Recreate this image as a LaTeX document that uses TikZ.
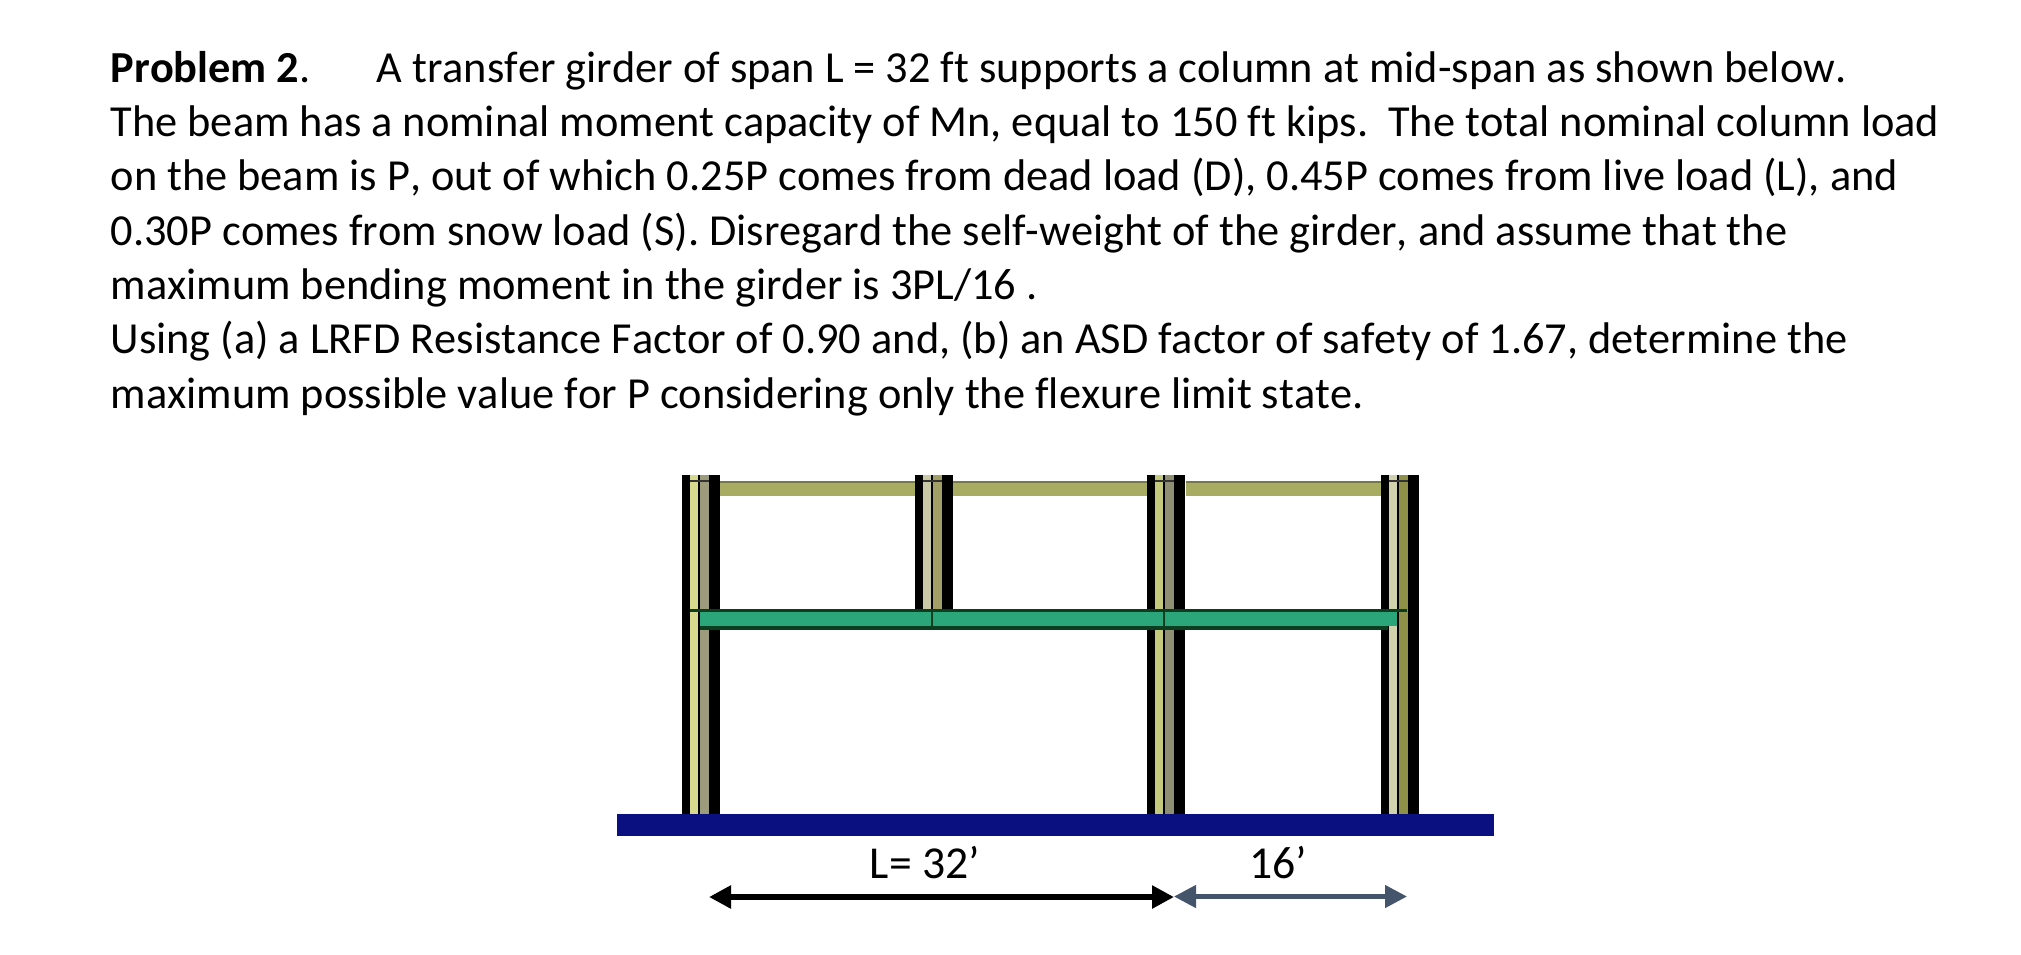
\documentclass[tikz,border=0pt]{standalone}
\usepackage{fontspec}
\setmainfont{Carlito}[Kerning=Off,Ligatures=NoCommon]
\usetikzlibrary{arrows.meta}

\definecolor{navy}{HTML}{0A1080}
\definecolor{slate}{HTML}{44546A}
\definecolor{girder}{HTML}{2BA67A}
\definecolor{girderedge}{HTML}{0B3D20}
\definecolor{roof}{HTML}{A8AC62}

\begin{document}
\begin{tikzpicture}[x=0.01cm,y=-0.01cm,
  txt/.style={anchor=base west,inner sep=0pt,font=\fontsize{12.61}{15}\selectfont},
  dim/.style={anchor=base,inner sep=0pt,font=\fontsize{13}{15}\selectfont},
  span/.style={{Triangle[length=22*0.2845pt,width=22*0.2845pt]}-{Triangle[length=22*0.2845pt,width=22*0.2845pt]}}]

  \useasboundingbox (0,0) rectangle (2021,954);

  \foreach \x/\e/\lt/\dk in {682/814/D6D98E/9C9C7C,915/609/C9C9A5/A3A067,1147/814/C5C97E/8F8F73,1381/814/D0D2AE/8F9148}{
    \definecolor{lt}{HTML}{\lt}
    \definecolor{dk}{HTML}{\dk}
    \fill[black] (\x,475) rectangle (\x+38,\e);
    \fill[lt] (\x+8,475) rectangle (\x+16,\e);
    \fill[dk] (\x+18,475) rectangle (\x+27,\e);
    \fill[black!80] (\x+8,480) rectangle (\x+27,482);
  }
  \foreach \a/\b in {720/915,953/1147,1186/1381}{
    \fill[roof] (\a,481) rectangle (\b,496);
    \fill[roof!70!black] (\a,481) rectangle (\b,483);
  }

  \fill[girderedge] (690,609) rectangle (1407,612);
  \fill[girderedge] (700,626) rectangle (1388,630);
  \fill[girder] (700,612) rectangle (1397,626);
  \fill[girderedge] (931,609) rectangle (933,630);
  \fill[girderedge] (1163,609) rectangle (1165,630);

  \fill[navy] (617,814) rectangle (1494,836);

  \node[txt] (prob) at (110,82) {\textbf{Problem 2}.};
  \node[txt] (l1) at (376,82) {A transfer girder of span L = 32 ft supports a column at mid-span as shown below.};
  \node[txt] (l2) at (110,136.3) {The beam has a nominal moment capacity of Mn, equal to 150 ft kips.\ \ The total nominal column load};
  \node[txt] (l3) at (110,190.6) {on the beam is P, out of which 0.25P comes from dead load (D), 0.45P comes from live load (L), and};
  \node[txt] (l4) at (110,245) {0.30P comes from snow load (S). Disregard the self-weight of the girder, and assume that the};
  \node[txt] (l5) at (110,299) {maximum bending moment in the girder is 3PL/16 .};
  \node[txt] (l6) at (110,353.5) {Using (a) a LRFD Resistance Factor of 0.90 and, (b) an ASD factor of safety of 1.67, determine the};
  \node[txt] (l7) at (110,408) {maximum possible value for P considering only the flexure limit state.};

  \node[dim] (lenL) at (925,878) {L= 32’};
  \node[dim] (lenR) at (1278,878) {16’};

  \coordinate (a) at (709,897);
  \coordinate (b) at (1174,897);
  \coordinate (c) at (1174,896.5);
  \coordinate (d) at (1407,896.5);
  \draw[span,line width=6.5*0.2845pt] (a) -- (b);
  \draw[span,line width=4.5*0.2845pt,slate] (c) -- (d);
\end{tikzpicture}
\end{document}
